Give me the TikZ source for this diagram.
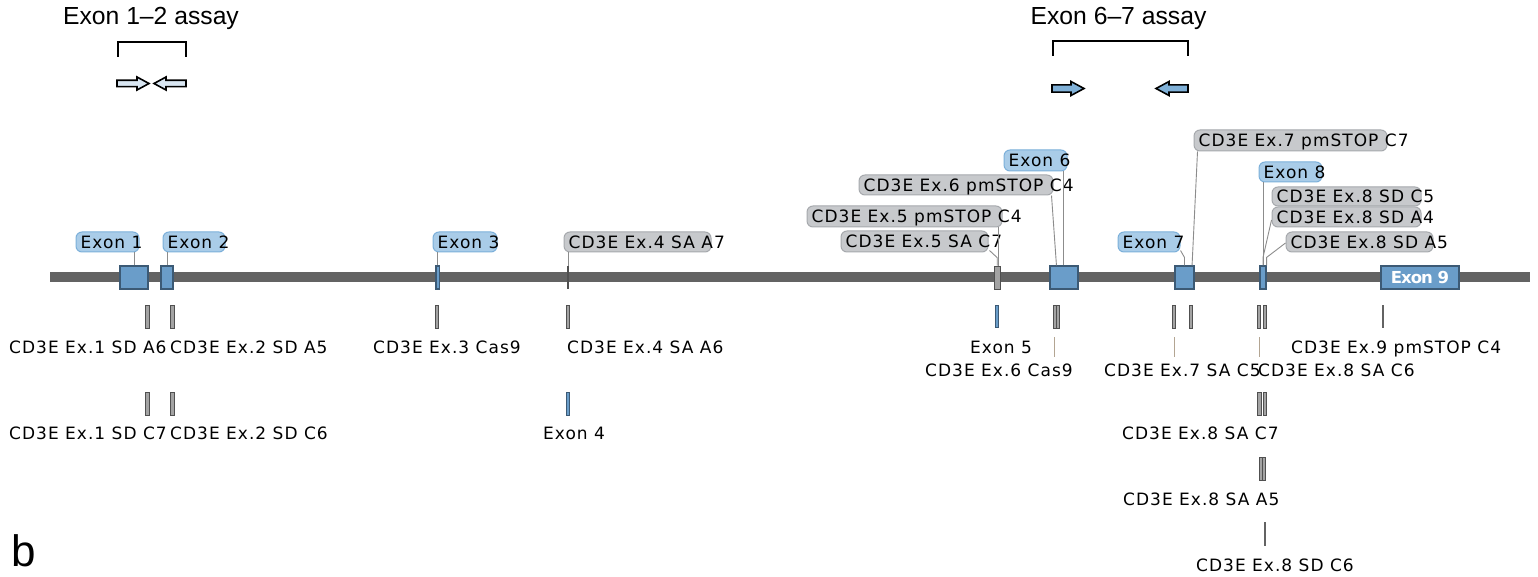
\documentclass[tikz,border=0pt]{standalone}
\usepackage{fontspec}
\setmainfont{Liberation Sans}
\newfontfamily\lblfont[LetterSpace=6]{DejaVu Sans}
\newfontfamily\tightsans[LetterSpace=-6]{DejaVu Sans}

\definecolor{trackgray}{HTML}{636363}
\definecolor{exonfill}{HTML}{6A9DC9}
\definecolor{exonedge}{HTML}{3C5A75}
\definecolor{cbfill}{HTML}{A9CCE8}
\definecolor{cbedge}{HTML}{7CB0DA}
\definecolor{cgfill}{HTML}{C7C9CC}
\definecolor{cgedge}{HTML}{A6A9AD}
\definecolor{barfill}{HTML}{A3A3A3}
\definecolor{baredge}{HTML}{505050}
\definecolor{leadgray}{HTML}{8C8C8C}
\definecolor{leadtan}{HTML}{B3A592}
\definecolor{primerlight}{HTML}{D9E6F2}
\definecolor{primerblue}{HTML}{80B1D8}

% callout box with its (overhanging) text
\newcommand\mkcallout[7]{%
  \node[#2, minimum width={#4-#3}, minimum height={#6-#5}] (#1) at ({(#3+#4)/2},{(#5+#6)/2}) {};
  \node[lbl] (#1-txt) at ({#3+4.5},{(#5+#6)/2+6.2}) {#7};}
% small vertical site mark
\newcommand\tickmark[6]{%
  \node[#2, minimum width=#6, minimum height={#5-#4}] (#1) at (#3,{(#4+#5)/2}) {};}

\begin{document}
\begin{tikzpicture}[x=1pt,y=-1pt,
  lbl/.style={font=\lblfont\fontsize{17}{20}\selectfont, inner sep=0pt, anchor=base west},
  title/.style={font=\fontsize{24.7}{29}\selectfont, inner sep=0pt, anchor=base},
  track/.style={fill=trackgray, inner sep=0pt, minimum height=10pt, minimum width=1480pt},
  exon/.style={draw=exonedge, fill=exonfill, line width=1.1pt, inner sep=0pt, minimum height=23pt},
  trackmark/.style={fill=baredge, inner sep=0pt, minimum height=23pt, minimum width=2.5pt},
  cblue/.style={draw=cbedge, fill=cbfill, rounded corners=6pt, line width=1pt, inner sep=0pt},
  cgray/.style={draw=cgedge, fill=cgfill, rounded corners=6pt, line width=1pt, inner sep=0pt},
  bar/.style={draw=baredge, fill=barfill, line width=0.7pt, inner sep=0pt},
  bluebar/.style={draw=exonedge, fill=exonfill, line width=0.7pt, inner sep=0pt},
  darkbar/.style={fill=trackgray, inner sep=0pt},
  leader/.style={draw=leadgray, line width=0.9pt},
  tanleader/.style={draw=leadtan, line width=0.9pt},
  bracket/.style={draw=black, line width=2pt},
  pics/primer/.style n args={4}{code={%
    \path[pic actions, draw=black, line width=1.6pt, line join=miter]
      (0,-#2) -- ({#1-#4},-#2) -- ({#1-#4},-#3) -- (#1,0) -- ({#1-#4},#3)
      -- ({#1-#4},#2) -- (0,#2) -- cycle;}}
]
\useasboundingbox (0,0) rectangle (1538,577);
\fill[white] (0,0) rectangle (1538,577);

% ---- assays ----
\node[title] (t12) at (151,25) {Exon 1–2 assay};
\coordinate (b12l) at (117.5,57);
\coordinate (b12r) at (185.5,57);
\draw[bracket] (b12l) -- ++(0,-15) -| (b12r);
\pic[fill=primerlight] at (117,83.5) {primer={32}{3.2}{6.5}{12}};
\pic[fill=primerlight, xscale=-1] at (186,83.5) {primer={32}{3.2}{6.5}{12}};

\node[title] (t67) at (1118.5,25) {Exon 6–7 assay};
\coordinate (b67l) at (1052.5,56);
\coordinate (b67r) at (1187.5,56);
\draw[bracket] (b67l) -- ++(0,-15) -| (b67r);
\pic[fill=primerblue] at (1052,88.5) {primer={32}{3.6}{7}{13}};
\pic[fill=primerblue, xscale=-1] at (1188,88.5) {primer={32}{3.6}{7}{13}};

% ---- gene track and exons ----
\node[track] (track) at (790,277) {};
\node[exon, minimum width=28pt] (ex1) at (134,277.5) {};
\node[exon, minimum width=12pt] (ex2) at (167,277.5) {};
\node[exon, minimum width=3.5pt] (ex3) at (437.7,277.5) {};
\node[trackmark] (ex4) at (568.2,277.5) {};
\node[bar, minimum width=5.5pt, minimum height=23pt] (ex5) at (997.2,277.5) {};
\node[exon, minimum width=28pt] (ex6) at (1064,277.5) {};
\node[exon, minimum width=19pt] (ex7) at (1184.5,277.5) {};
\node[exon, minimum width=6pt] (ex8) at (1263,277.5) {};
\node[exon, minimum width=78pt, text=white,
      font=\tightsans\bfseries\fontsize{16.5}{19}\selectfont] (ex9) at (1420,277.5) {Exon 9};

% ---- callouts above the track ----
\mkcallout{c1}{cblue}{76}{139}{232}{252}{Exon 1}
\mkcallout{c2}{cblue}{163}{225}{232}{252}{Exon 2}
\mkcallout{c3}{cblue}{433}{497}{232}{252}{Exon 3}
\mkcallout{c4a}{cgray}{564}{711}{232}{252}{CD3E Ex.4 SA A7}
\mkcallout{c6}{cblue}{1004}{1067}{150}{171}{Exon 6}
\mkcallout{c6p}{cgray}{859}{1053}{175}{195}{CD3E Ex.6 pmSTOP C4}
\mkcallout{c5p}{cgray}{807}{1002}{206}{227}{CD3E Ex.5 pmSTOP C4}
\mkcallout{c5s}{cgray}{841}{988}{231}{252}{CD3E Ex.5 SA C7}
\mkcallout{c7p}{cgray}{1194}{1387}{130}{151}{CD3E Ex.7 pmSTOP C7}
\mkcallout{c7}{cblue}{1118}{1180}{232}{252}{Exon 7}
\mkcallout{c8}{cblue}{1259}{1322}{162}{182}{Exon 8}
\mkcallout{c8c5}{cgray}{1272}{1421}{187}{206}{CD3E Ex.8 SD C5}
\mkcallout{c8a4}{cgray}{1272}{1421}{207}{227}{CD3E Ex.8 SD A4}
\mkcallout{c8a5}{cgray}{1286}{1433}{232}{252}{CD3E Ex.8 SD A5}

% leaders from callouts to the track
\draw[leader] (ex1.north) -- (ex1.north |- c1.south);
\draw[leader] (ex2.north) -- (ex2.north |- c2.south);
\draw[leader] (ex3.north) -- (ex3.north |- c3.south);
\draw[leader] (ex4.north) -- (ex4.north |- c4a.south);
\draw[leader] ([xshift=-1pt]ex6.north) -- ([xshift=-1pt]ex6.north |- c6.south);
\draw[leader] ([xshift=-2pt]c6p.south east) -- ([xshift=7pt]ex6.north west);
\draw[leader] ([xshift=-4pt]c5p.south east) -- ([xshift=-4pt]c5p.south east |- ex5.north);
\draw[leader] ([shift={(1pt,2pt)}]c5s.south east) -- ([yshift=8pt]ex5.north) -- (ex5.north);
\draw[leader] ([xshift=4pt]c7p.south west) -- ([xshift=-2.5pt]ex7.north east);
\draw[leader] ([yshift=2pt]c7.south east) -- ([yshift=8pt]ex7.north) -- (ex7.north);
\draw[leader] (ex8.north) -- (ex8.north |- c8.south);
\draw[leader] ([yshift=-3pt]c8a4.west) -- ([yshift=8pt]ex8.north) -- (ex8.north);
\draw[leader] ([yshift=-1pt]c8a5.west) -- ([yshift=8pt]ex8.north east) -- (ex8.north east);

% ---- site marks below the track ----
\tickmark{rA1}{bar}{147.5}{305}{328}{3.5pt}
\tickmark{rA2}{bar}{172.5}{305}{328}{3.5pt}
\tickmark{rA3}{bar}{437}{305}{328}{3.5pt}
\tickmark{rA4}{bar}{568}{305}{328}{3.5pt}
\tickmark{rA5}{bluebar}{997}{305}{327}{3.5pt}
\tickmark{rA6a}{bar}{1054.5}{305}{328}{3pt}
\tickmark{rA6b}{bar}{1057.5}{305}{328}{3pt}
\tickmark{rA7}{bar}{1174}{305}{328}{3.5pt}
\tickmark{rA7b}{bar}{1191}{305}{328}{3.5pt}
\tickmark{rA8a}{bar}{1259}{305}{328}{3.5pt}
\tickmark{rA8b}{bar}{1265}{305}{328}{3.5pt}
\tickmark{rA9}{darkbar}{1383}{305}{328}{2.5pt}

\tickmark{rB1}{bar}{147.5}{392}{415}{3.5pt}
\tickmark{rB2}{bar}{172.5}{392}{415}{3.5pt}
\tickmark{rB4}{bluebar}{568}{392}{415}{3.5pt}
\tickmark{rB8a}{bar}{1259.5}{392}{415}{3.5pt}
\tickmark{rB8b}{bar}{1265}{392}{415}{3.5pt}

\tickmark{rC8a}{bar}{1260.5}{457}{480}{3pt}
\tickmark{rC8b}{bar}{1263.5}{457}{480}{3pt}

\tickmark{rD8}{darkbar}{1265}{522}{546}{2.5pt}

\draw[tanleader] ([yshift=-9pt]rA6a.south) -- ([yshift=-29pt]rA6a.south);
\draw[tanleader] ([yshift=-9pt]rA7.south) -- ([yshift=-29pt]rA7.south);
\draw[tanleader] ([yshift=-9pt]rA8a.south) -- ([yshift=-29pt]rA8a.south);

% ---- labels below the track ----
\node[lbl] (l1a) at (9,353) {CD3E Ex.1 SD A6};
\node[lbl] (l2a) at (170,353) {CD3E Ex.2 SD A5};
\node[lbl] (l3) at (373,353) {CD3E Ex.3 Cas9};
\node[lbl] (l4a) at (567,353) {CD3E Ex.4 SA A6};
\node[lbl] (l5) at (970,353) {Exon 5};
\node[lbl] (l9) at (1291,353) {CD3E Ex.9 pmSTOP C4};
\node[lbl] (l6) at (925,376) {CD3E Ex.6 Cas9};
\node[lbl] (l7) at (1104,376) {CD3E Ex.7 SA C5};
\node[lbl] (l8c6) at (1258,376) {CD3E Ex.8 SA C6};
\node[lbl] (l1c) at (9,439) {CD3E Ex.1 SD C7};
\node[lbl] (l2c) at (170,439) {CD3E Ex.2 SD C6};
\node[lbl] (l4) at (543,439) {Exon 4};
\node[lbl] (l8c7) at (1122,439) {CD3E Ex.8 SA C7};
\node[lbl] (l8a5) at (1123,505) {CD3E Ex.8 SA A5};
\node[lbl] (l8sd) at (1196,571) {CD3E Ex.8 SD C6};

% panel letter
\node[anchor=base west, inner sep=0pt, font=\fontsize{44}{50}\selectfont] (panel) at (11,566) {b};
\end{tikzpicture}
\end{document}
